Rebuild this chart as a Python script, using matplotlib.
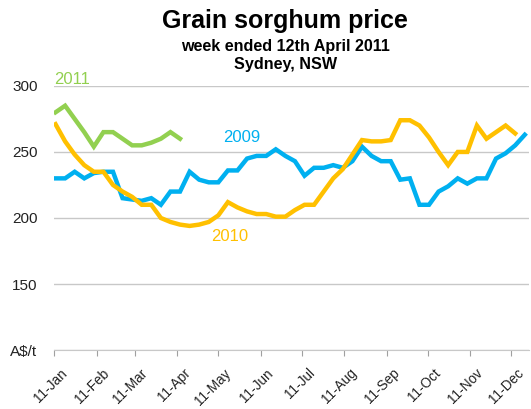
import numpy as np
import pandas as pd
import matplotlib
matplotlib.use("Agg")
import matplotlib.pyplot as plt
import matplotlib.dates as mdates
import matplotlib.transforms as mtransforms

plt.rcParams["font.family"] = ["Liberation Sans", "DejaVu Sans"]

# Weekly prices (A$/t), plotted on a common calendar year
price_2009 = [230, 230, 235, 230, 234, 235, 235, 215, 214, 213,
              215, 210, 220, 220, 235, 229, 227, 227, 236, 236,
              245, 247, 247, 252, 247, 243, 232, 238, 238, 240,
              238, 243, 254, 247, 243, 243, 229, 230, 210, 210,
              220, 224, 230, 226, 230, 230, 245, 249, 255, 263]
price_2010 = [271, 258, 248, 240, 235, 235, 225, 220, 216, 210,
              210, 200, 197, 195, 194, 195, 197, 202, 212, 208,
              205, 203, 203, 201, 201, 206, 210, 210, 220, 230,
              237, 248, 259, 258, 258, 259, 274, 274, 270, 261,
              250, 240, 250, 250, 270, 260, 265, 270, 264]
price_2011 = [280, 285, 275, 265, 254, 265, 265, 260, 255, 255,
              257, 260, 265, 260]

week_start = "2011-01-12"
colors = {"2009": "#00B0F0", "2010": "#FFC000", "2011": "#92D050"}

fig = plt.figure(figsize=(5.31, 4.09), dpi=100)
ax = fig.add_axes([0.102, 0.144, 0.894, 0.646])

for label, vals in [("2009", price_2009), ("2010", price_2010), ("2011", price_2011)]:
    dates = pd.date_range(week_start, periods=len(vals), freq="7D")
    ax.plot(dates, vals, color=colors[label], lw=3.2, solid_joinstyle="miter", zorder=3)

ax.set_yticks([100, 150, 200, 250, 300])
ax.set_yticklabels(["A$/t", "150", "200", "250", "300"])
ax.yaxis.grid(True, color="#c8c8c8", lw=1)
ax.tick_params(axis="y", length=0, pad=12, labelsize=11, labelcolor="#222222")

months = pd.date_range("2011-01-01", periods=12, freq="MS") + pd.Timedelta(days=10)
ax.set_xticks(months)
ax.xaxis.set_major_formatter(mdates.DateFormatter("%d-%b"))
ax.tick_params(axis="x", length=4.5, color="#a0a0a0", labelsize=9.8, labelcolor="#222222", pad=7)
shift = mtransforms.ScaledTranslation(4 / 72, 0, fig.dpi_scale_trans)
for t in ax.get_xticklabels():
    t.set_rotation(45)
    t.set_ha("right")
    t.set_rotation_mode("anchor")
    t.set_transform(t.get_transform() + shift)

ax.set_ylim(100, 300)
ax.set_xlim(pd.Timestamp("2011-01-11"), pd.Timestamp("2011-12-24"))

for s in ["top", "right", "left"]:
    ax.spines[s].set_visible(False)
ax.spines["bottom"].set_color("#c8c8c8")

# Series labels
ax.text(pd.Timestamp("2011-01-24"), 305, "2011", color=colors["2011"], fontsize=12,
        ha="center", va="center", clip_on=False)
ax.text(pd.Timestamp("2011-05-28"), 261, "2009", color=colors["2009"], fontsize=12, ha="center", va="center")
ax.text(pd.Timestamp("2011-05-19"), 186, "2010", color=colors["2010"], fontsize=12, ha="center", va="center")

fig.text(0.537, 0.948, "Grain sorghum price", fontsize=18, fontweight="bold", ha="center", va="center")
fig.text(0.537, 0.887, "week ended 12th April 2011", fontsize=11.6, fontweight="bold", ha="center", va="center")
fig.text(0.537, 0.843, "Sydney, NSW", fontsize=11.6, fontweight="bold", ha="center", va="center")

fig.savefig("out.png", dpi=100)
